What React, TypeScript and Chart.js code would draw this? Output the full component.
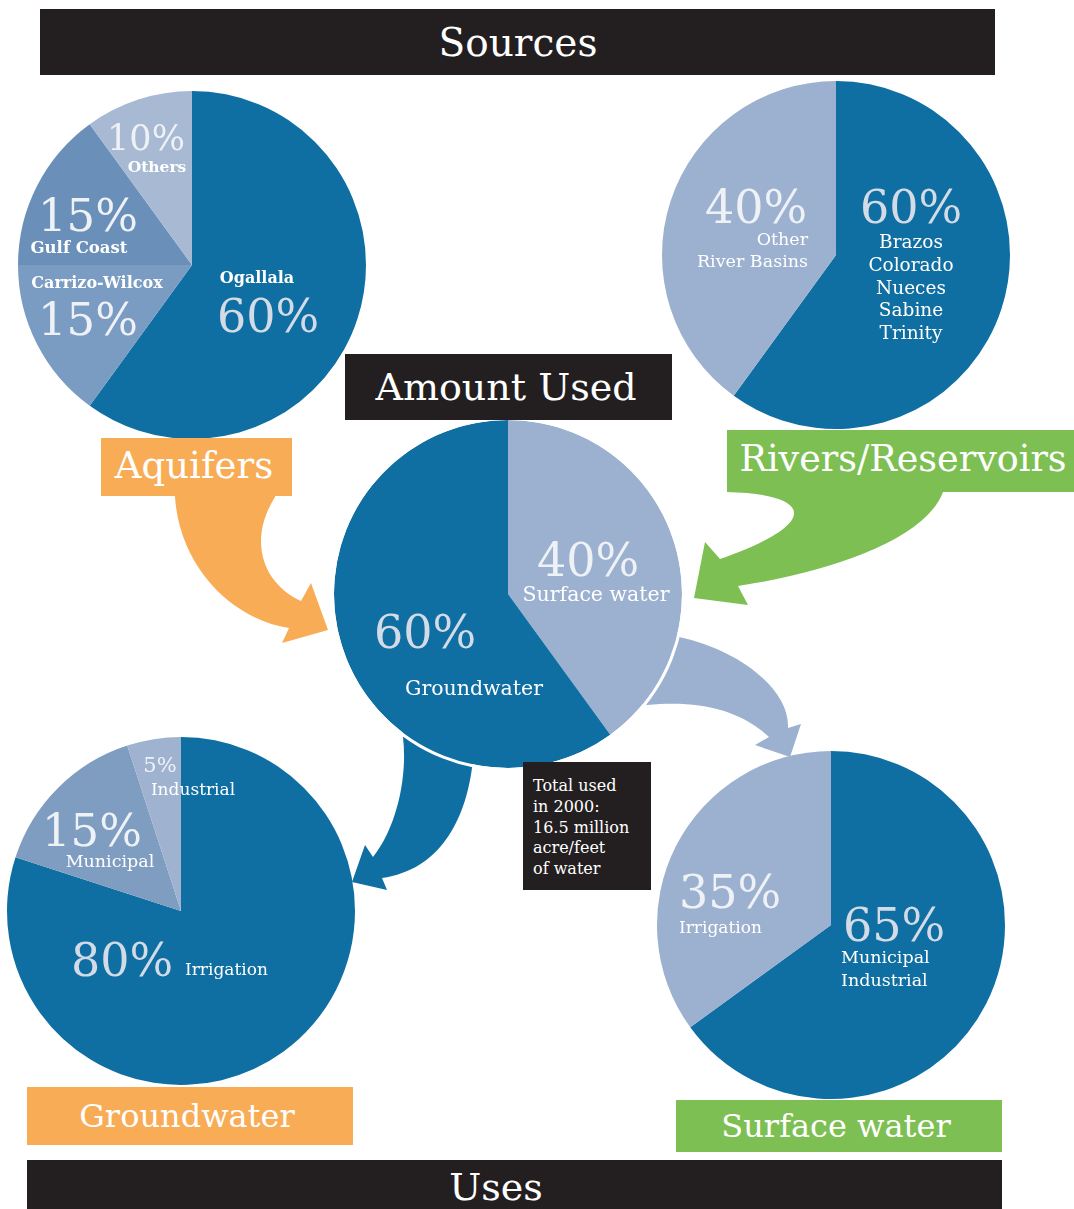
import React, { useEffect, useRef } from "react";
import { Chart, registerables } from "chart.js";

Chart.register(...registerables);

// ---------- data ----------
const aquiferLabels = ["Ogallala", "Carrizo-Wilcox", "Gulf Coast", "Others"];
const aquiferValues = [60, 15, 15, 10];

const riverLabels = ["Brazos Colorado Nueces Sabine Trinity", "Other River Basins"];
const riverValues = [60, 40];

const amountLabels = ["Surface water", "Groundwater"];
const amountValues = [40, 60];

const gwUseLabels = ["Irrigation", "Municipal", "Industrial"];
const gwUseValues = [80, 15, 5];

const swUseLabels = ["Municipal Industrial", "Irrigation"];
const swUseValues = [65, 35];

const totalLines = ["Total used", "in 2000:", "16.5 million", "acre/feet", "of water"];

// ---------- style ----------
const DARK = "#0f6ea2";
const LIGHT = "#9cb1cf";
const ORANGE = "#f9ac56";
const GREEN = "#7dbf53";
const BLACK = "#231f20";
const PCT_DARK = "#d3dbe6";
const PCT_LIGHT = "#eef1f6";
const FONT = "'DejaVu Serif', serif";

const ringPlugin = {
  id: "whiteRing",
  afterDatasetsDraw(chart: any) {
    const arc = chart.getDatasetMeta(0).data[0] as any;
    if (!arc) return;
    const ctx = chart.ctx;
    ctx.save();
    ctx.beginPath();
    ctx.arc(arc.x, arc.y, arc.outerRadius + 1.5, 0, Math.PI * 2);
    ctx.strokeStyle = "#ffffff";
    ctx.lineWidth = 3;
    ctx.stroke();
    ctx.restore();
  },
};

function Pie(props: { cx: number; cy: number; labels: string[]; values: number[]; colors: string[]; ring?: boolean }) {
  const ref = useRef<HTMLCanvasElement>(null);
  useEffect(() => {
    const chart = new Chart(ref.current as HTMLCanvasElement, {
      type: "pie",
      data: {
        labels: props.labels,
        datasets: [
          {
            data: props.values,
            backgroundColor: props.colors,
            borderWidth: 0,
            hoverOffset: 0,
          } as any,
        ],
      },
      options: {
        responsive: false,
        animation: false,
        radius: 174,
        events: [],
        plugins: { legend: { display: false }, tooltip: { enabled: false } },
      } as any,
      plugins: props.ring ? [ringPlugin] : [],
    });
    return () => chart.destroy();
  }, []);
  return (
    <canvas
      ref={ref}
      width={360}
      height={360}
      style={{ position: "absolute", left: props.cx - 180, top: props.cy - 180, width: 360, height: 360, zIndex: 1 }}
    />
  );
}

function T(props: { x: number; y: number; text: string; size: number; color?: string; bold?: boolean; align?: "left" | "center" | "right" }) {
  const align = props.align || "center";
  const tx = align === "center" ? "-50%" : align === "right" ? "-100%" : "0";
  return (
    <div
      style={{
        position: "absolute",
        left: props.x,
        top: props.y,
        transform: `translate(${tx}, -50%)`,
        fontFamily: FONT,
        fontSize: props.size,
        fontWeight: props.bold ? "bold" : "normal",
        color: props.color || "#ffffff",
        whiteSpace: "nowrap",
        lineHeight: 1,
        zIndex: 3,
      }}
    >
      {props.text}
    </div>
  );
}

function Box(props: { x: number; y: number; w: number; h: number; bg: string; text?: string; size?: number; tx?: number; ty?: number }) {
  return (
    <>
      <div style={{ position: "absolute", left: props.x, top: props.y, width: props.w, height: props.h, background: props.bg, zIndex: 2 }} />
      {props.text ? (
        <T x={props.tx ?? props.x + props.w / 2} y={props.ty ?? props.y + props.h / 2} text={props.text} size={props.size || 36} />
      ) : null}
    </>
  );
}

const pct = (v: number) => `${v}%`;

export default function App() {
  return (
    <div style={{ position: "absolute", left: 0, top: 0, width: 1074, height: 1209, background: "#fff", overflow: "hidden" }}>
      <svg width={1074} height={1209} style={{ position: "absolute", left: 0, top: 0, zIndex: 0 }}>
        {/* Aquifers arrow */}
        <path d="M175,490 L175,497 C180,570 235,620 289,628 L282,643 L328,630 L311,583 L301,601 C262,583 248,540 275,497 L275,490 Z" fill={ORANGE} />
        {/* Rivers arrow */}
        <path d="M727,485 L727,492 C810,494 825,522 720,559 L705,542 L694,598 L748,605 L738,586 C830,572 925,540 943,492 L943,485 Z" fill={GREEN} />
        {/* Surface water -> uses arrow */}
        <path d="M679,637 C740,650 790,690 788,728 L801,724 L790,757 L755,745 L769,737 C740,710 700,700 647,705 L630,700 L650,630 Z" fill={LIGHT} />
        {/* Groundwater -> uses arrow */}
        <path d="M403,737 C408,780 395,830 373,857 L365,845 L352,882 L387,890 L382,878 C440,870 465,820 472,768 L475,740 L400,715 Z" fill={DARK} />
      </svg>

      <Pie cx={192} cy={265} labels={aquiferLabels} values={aquiferValues} colors={[DARK, "#7a9bc2", "#6a8fb8", "#a8b9d3"]} />
      <Pie cx={836} cy={255} labels={riverLabels} values={riverValues} colors={[DARK, LIGHT]} />
      <Pie cx={508} cy={594} labels={amountLabels} values={amountValues} colors={[LIGHT, DARK]} ring />
      <Pie cx={181} cy={911} labels={gwUseLabels} values={gwUseValues} colors={[DARK, "#7f9dc1", "#9fb3d1"]} />
      <Pie cx={831} cy={925} labels={swUseLabels} values={swUseValues} colors={[DARK, LIGHT]} />

      {/* banners */}
      <Box x={40} y={9} w={955} h={66} bg={BLACK} text="Sources" size={39} tx={518} ty={42} />
      <Box x={345} y={354} w={327} h={66} bg={BLACK} text="Amount Used" size={38} tx={506} ty={387} />
      <Box x={101} y={438} w={191} h={58} bg={ORANGE} text="Aquifers" size={37} tx={194} ty={465} />
      <Box x={727} y={430} w={347} h={62} bg={GREEN} text="Rivers/Reservoirs" size={36.5} tx={903} ty={459} />
      <Box x={27} y={1087} w={326} h={58} bg={ORANGE} text="Groundwater" size={32} tx={187} ty={1116} />
      <Box x={676} y={1100} w={326} h={52} bg={GREEN} text="Surface water" size={32} tx={836} ty={1126} />
      <Box x={27} y={1160} w={975} h={49} bg={BLACK} text="Uses" size={38} tx={496} ty={1187} />
      <Box x={523} y={762} w={128} h={128} bg={BLACK} />
      {totalLines.map((s, i) => (
        <T key={s} x={533} y={786 + i * 20.8} text={s} size={16} align="left" />
      ))}

      {/* Aquifer labels */}
      <T x={146} y={138} text={pct(aquiferValues[3])} size={35} color={PCT_LIGHT} />
      <T x={157} y={167} text={aquiferLabels[3]} size={15.5} bold />
      <T x={79} y={248} text={aquiferLabels[2]} size={16.5} bold />
      <T x={88} y={215} text={pct(aquiferValues[2])} size={45} color={PCT_LIGHT} />
      <T x={97} y={283} text={aquiferLabels[1]} size={16} bold />
      <T x={88} y={319} text={pct(aquiferValues[1])} size={45} color={PCT_LIGHT} />
      <T x={257} y={278} text={aquiferLabels[0]} size={16} bold />
      <T x={268} y={316} text={pct(aquiferValues[0])} size={46} color={PCT_DARK} />

      {/* River labels */}
      <T x={756} y={207} text={pct(riverValues[1])} size={46} color={PCT_LIGHT} />
      <T x={808} y={240} text="Other" size={17.5} align="right" />
      <T x={808} y={262} text="River Basins" size={17.5} align="right" />
      <T x={911} y={207} text={pct(riverValues[0])} size={46} color={PCT_DARK} />
      {riverLabels[0].split(" ").map((s, i) => (
        <T key={s} x={911} y={242 + i * 22.8} text={s} size={18.5} />
      ))}

      {/* Amount labels */}
      <T x={588} y={560} text={pct(amountValues[0])} size={46} color={PCT_LIGHT} />
      <T x={596} y={594} text={amountLabels[0]} size={20.5} />
      <T x={425} y={632} text={pct(amountValues[1])} size={46} color={PCT_DARK} />
      <T x={474} y={688} text={amountLabels[1]} size={20.5} />

      {/* Groundwater uses labels */}
      <T x={160} y={765} text={pct(gwUseValues[2])} size={21} color={PCT_LIGHT} />
      <T x={193} y={789} text={gwUseLabels[2]} size={17} />
      <T x={92} y={830} text={pct(gwUseValues[1])} size={45} color={PCT_LIGHT} />
      <T x={110} y={862} text={gwUseLabels[1]} size={17.5} />
      <T x={122} y={960} text={pct(gwUseValues[0])} size={46} color={PCT_DARK} />
      <T x={185} y={969} text={gwUseLabels[0]} size={17} align="left" />

      {/* Surface water uses labels */}
      <T x={730} y={892} text={pct(swUseValues[1])} size={46} color={PCT_LIGHT} />
      <T x={679} y={927} text={swUseLabels[1]} size={17} align="left" />
      <T x={894} y={925} text={pct(swUseValues[0])} size={46} color={PCT_DARK} />
      {swUseLabels[0].split(" ").map((s, i) => (
        <T key={s} x={841} y={958 + i * 23} text={s} size={17.5} align="left" />
      ))}
    </div>
  );
}
